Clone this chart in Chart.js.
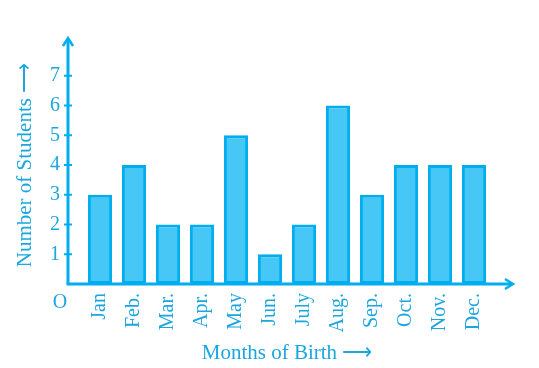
<!DOCTYPE html>
<html><head><meta charset="utf-8">
<script src="https://cdn.jsdelivr.net/npm/chart.js@4/dist/chart.umd.min.js"></script>
<style>html,body{margin:0;padding:0;background:#fff}#wrap{width:539px;height:368px}</style>
</head><body><div id="wrap"><canvas id="c" width="539" height="368"></canvas></div>
<script>
const months = ['Jan', 'Feb.', 'Mar.', 'Apr.', 'May', 'Jun.', 'July', 'Aug.', 'Sep.', 'Oct.', 'Nov.', 'Dec.'];
const students = [3, 4, 2, 2, 5, 1, 2, 6, 3, 4, 4, 4];
const yTicks = [1, 2, 3, 4, 5, 6, 7];
const xTitle = 'Months of Birth ⟶';
const yTitle = 'Number of Students ⟶';
const originLabel = 'O';

const TXT = '#1ba6df';
const AX = '#00aeef';
const FONT = 'Liberation Serif';

const axesPlugin = {
  id: 'arrowAxes',
  afterDatasetsDraw(chart) {
    const ctx = chart.ctx, a = chart.chartArea, ys = chart.scales.y;
    const x0 = a.left - 15, y0 = ys.getPixelForValue(0);
    const yTop = a.top - 8, xEnd = a.right + 22;
    ctx.save();
    ctx.strokeStyle = AX; ctx.fillStyle = AX; ctx.lineWidth = 3; ctx.lineCap = 'butt';
    ctx.beginPath(); ctx.moveTo(x0, y0); ctx.lineTo(x0, yTop + 2); ctx.stroke();
    ctx.beginPath(); ctx.moveTo(x0 - 1.5, y0); ctx.lineTo(xEnd - 2, y0); ctx.stroke();
    ctx.lineWidth = 2.5;
    ctx.beginPath(); ctx.moveTo(x0 - 5, yTop + 8); ctx.lineTo(x0, yTop); ctx.lineTo(x0 + 5, yTop + 8); ctx.stroke();
    ctx.beginPath(); ctx.moveTo(xEnd - 8, y0 - 5); ctx.lineTo(xEnd, y0); ctx.lineTo(xEnd - 8, y0 + 5); ctx.stroke();
    ctx.lineWidth = 2;
    yTicks.forEach(v => { const p = ys.getPixelForValue(v); ctx.beginPath(); ctx.moveTo(x0 - 4, p); ctx.lineTo(x0 + 4, p); ctx.stroke(); });
    ctx.fillStyle = TXT; ctx.font = '20px "' + FONT + '"'; ctx.textAlign = 'center'; ctx.textBaseline = 'middle';
    ctx.fillText(originLabel, x0 - 8, y0 + 19);
    ctx.restore();
  }
};

new Chart(document.getElementById('c'), {
  type: 'bar',
  data: { labels: months, datasets: [{ data: students, backgroundColor: '#47c7f5', borderColor: AX, borderWidth: 3, borderSkipped: false, categoryPercentage: 1, barPercentage: 0.71 }] },
  options: {
    responsive: false, animation: false,
    layout: { padding: { top: 46, right: 48, left: 0, bottom: 0 } },
    plugins: { legend: { display: false }, tooltip: { enabled: false } },
    scales: {
      x: {
        grid: { display: false, drawTicks: false }, border: { display: false },
        ticks: { color: TXT, font: { family: FONT, size: 20 }, minRotation: 90, maxRotation: 90, padding: 9, autoSkip: false },
        title: { display: true, text: xTitle, color: TXT, font: { family: FONT, size: 21 }, padding: { top: 0, bottom: 2 } },
        afterFit(s) { s.height = 84; }
      },
      y: {
        min: 0, max: 8,
        grid: { display: false, drawTicks: false }, border: { display: false },
        ticks: { stepSize: 1, color: TXT, font: { family: FONT, size: 20 }, padding: 23, callback: v => yTicks.includes(v) ? String(v) : '' },
        title: { display: true, text: yTitle, color: TXT, font: { family: FONT, size: 21 }, padding: { top: 13, bottom: 0 } },
        afterFit(s) { s.width = 83; }
      }
    }
  },
  plugins: [axesPlugin]
});
</script></body></html>
